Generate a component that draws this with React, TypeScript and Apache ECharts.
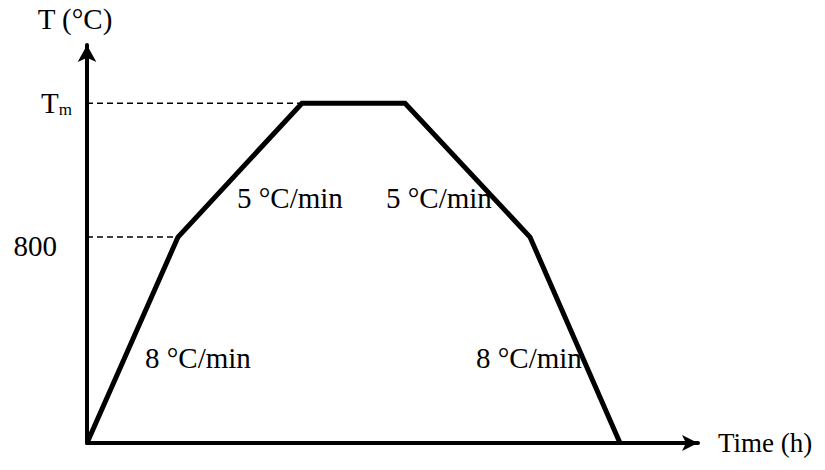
import React, { useEffect, useRef } from "react";
import * as echarts from "echarts";

// Schematic heating profile (time units arbitrary)
const profileTime = [0, 91, 215, 318, 443, 533];
const profileTemp = [0, 800, 1320, 1320, 800, 0];
const tempTicks = [800, 1320];
const tickNames = ["800", "Tm"];
const rateLabels = ["5 °C/min", "5 °C/min", "8 °C/min", "8 °C/min"];
const rateLabelTime = [150, 299, 58, 389];
const rateLabelTemp = [952, 950, 330, 330];

const FONT = "Liberation Serif";

export default function App() {
  const ref = useRef<HTMLDivElement>(null);
  useEffect(() => {
    if (!ref.current) return;
    const chart = echarts.init(ref.current, null, { renderer: "svg" });
    const line = profileTime.map((t, i) => [t, profileTemp[i]]);
    const dash800 = [[0, tempTicks[0]], [profileTime[1], tempTicks[0]]];
    const dashTm = [[0, tempTicks[1]], [profileTime[2], tempTicks[1]]];
    const labels = rateLabels.map((s, i) => ({ value: [rateLabelTime[i], rateLabelTemp[i]], name: s }));
    chart.setOption({
      animation: false,
      backgroundColor: "#ffffff",
      textStyle: { fontFamily: FONT },
      grid: { left: 87, right: 127, top: 45, bottom: 27, containLabel: false, outerBoundsMode: "none" },
      xAxis: {
        type: "value",
        min: 0,
        max: 611,
        name: "Time (h)",
        nameLocation: "end",
        nameGap: 20,
        nameTextStyle: { fontFamily: FONT, fontSize: 27, color: "#000", verticalAlign: "middle" },
        axisLine: { show: true, symbol: ["none", "arrow"], symbolSize: [12, 16], lineStyle: { color: "#000", width: 4 } },
        axisTick: { show: false },
        axisLabel: { show: false },
        splitLine: { show: false },
      },
      yAxis: {
        type: "value",
        min: 0,
        max: 1546,
        name: "T (°C)",
        nameLocation: "end",
        nameGap: 12,
        nameTextStyle: { fontFamily: FONT, fontSize: 29, color: "#000", align: "center", padding: [0, 24, 0, 0] },
        axisLine: { show: true, symbol: ["none", "arrow"], symbolSize: [14, 17], lineStyle: { color: "#000", width: 4 } },
        axisTick: { show: false },
        splitLine: { show: false },
        axisLabel: {
          show: true,
          customValues: tempTicks,
          margin: 15,
          formatter: (v: number) => {
            const idx = tempTicks.indexOf(v);
            const n = tickNames[idx];
            if (n === "Tm") return "{t|T}{s|m}";
            return "{n|" + n + "}";
          },
          rich: {
            n: { fontFamily: FONT, fontSize: 29, color: "#000", padding: [18, 15, 0, 0] },
            t: { fontFamily: FONT, fontSize: 29, color: "#000", lineHeight: 29 },
            s: { fontFamily: FONT, fontSize: 17, color: "#000", lineHeight: 17, verticalAlign: "bottom" },
          },
        },
      },
      series: [
        {
          type: "line",
          data: dashTm,
          symbol: "none",
          silent: true,
          z: 1,
          lineStyle: { color: "#000", width: 1.5, type: [6, 4] },
        },
        {
          type: "line",
          data: dash800,
          symbol: "none",
          silent: true,
          z: 1,
          lineStyle: { color: "#000", width: 1.5, type: [6, 4] },
        },
        {
          type: "scatter",
          data: labels,
          symbolSize: 0,
          silent: true,
          z: 1,
          itemStyle: { opacity: 1, color: "#000" },
          label: {
            show: true,
            position: "right",
            distance: 0,
            opacity: 1,
            formatter: (p: any) => p.name,
            fontFamily: FONT,
            fontSize: 29,
            color: "#000",
          },
        },
        {
          type: "line",
          data: line,
          symbol: "none",
          silent: true,
          z: 5,
          lineStyle: { color: "#000", width: 5, join: "miter" },
        },
      ],
    });
    return () => chart.dispose();
  }, []);
  return <div ref={ref} style={{ position: "absolute", left: 0, top: 0, width: 825, height: 470 }} />;
}
